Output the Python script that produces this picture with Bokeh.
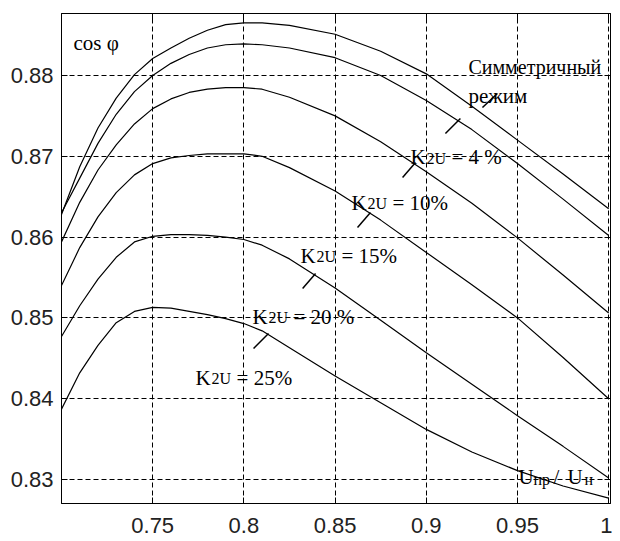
from bokeh.plotting import figure
from bokeh.models import Label, FixedTicker, LinearAxis, Range1d
from bokeh.embed import file_html
from bokeh.resources import INLINE

# ---- data ----
u_ratio = [0.70, 0.71, 0.72, 0.73, 0.74, 0.75, 0.76, 0.77, 0.78, 0.79, 0.80,
           0.81, 0.825, 0.85, 0.875, 0.90, 0.925, 0.95, 0.975, 1.00]
cos_sym = [0.8628, 0.8687, 0.8735, 0.8772, 0.8801, 0.8821, 0.8834, 0.8846, 0.8856, 0.8863, 0.8865,
           0.8865, 0.8862, 0.8851, 0.8830, 0.8802, 0.8762, 0.8720, 0.8678, 0.8635]
cos_k4 = [0.8630, 0.8673, 0.8716, 0.8752, 0.8780, 0.8800, 0.8815, 0.8826, 0.8834, 0.8838, 0.8839,
          0.8838, 0.8834, 0.8822, 0.8800, 0.8769, 0.8733, 0.8691, 0.8647, 0.8602]
cos_k10 = [0.8594, 0.8643, 0.8683, 0.8714, 0.8740, 0.8759, 0.8771, 0.8779, 0.8783, 0.8785, 0.8785,
           0.8783, 0.8773, 0.8750, 0.8718, 0.8681, 0.8642, 0.8599, 0.8553, 0.8506]
cos_k15 = [0.8540, 0.8587, 0.8625, 0.8655, 0.8677, 0.8691, 0.8698, 0.8701, 0.8703, 0.8703, 0.8703,
           0.8700, 0.8686, 0.8657, 0.8621, 0.8581, 0.8541, 0.8500, 0.8451, 0.8400]
cos_k20 = [0.8477, 0.8515, 0.8548, 0.8575, 0.8594, 0.8601, 0.8603, 0.8603, 0.8602, 0.8600, 0.8597,
           0.8590, 0.8573, 0.8537, 0.8497, 0.8457, 0.8418, 0.8379, 0.8341, 0.8302]
cos_k25 = [0.8387, 0.8432, 0.8466, 0.8494, 0.8508, 0.8513, 0.8512, 0.8508, 0.8504, 0.8499, 0.8493,
           0.8484, 0.8463, 0.8428, 0.8395, 0.8362, 0.8334, 0.8311, 0.8292, 0.8277]

xtick_vals = [0.75, 0.8, 0.85, 0.9, 0.95, 1.0]
xtick_labels = ["0.75", "0.8", "0.85", "0.9", "0.95", "1"]
ytick_vals = [0.83, 0.84, 0.85, 0.86, 0.87, 0.88]
ytick_labels = ["0.83", "0.84", "0.85", "0.86", "0.87", "0.88"]

# curve-label texts and anchors (data coordinates)
k_rest = ["= 4 %", "= 10%", "= 15%", "= 20 %", "= 25%"]
k_x = [0.8913, 0.8590, 0.8310, 0.8047, 0.7735]
k_y = [0.86985, 0.86428, 0.85772, 0.85017, 0.84262]
# leader strokes
lead_x0 = [0.9308, 0.9105, 0.8870, 0.8623, 0.8322, 0.8053]
lead_y0 = [0.87604, 0.87282, 0.86738, 0.86119, 0.85364, 0.84621]
lead_x1 = [0.9390, 0.9187, 0.8941, 0.8694, 0.8393, 0.8135]
lead_y1 = [0.87777, 0.87468, 0.86923, 0.86304, 0.85550, 0.84807]

SERIF = "Liberation Serif"
TICKFONT = "Liberation Sans"

p = figure(frame_width=549, frame_height=490, x_range=Range1d(0.7, 1.001),
           y_range=Range1d(0.82703, 0.88767),
           output_backend="svg", toolbar_location=None,
           min_border_left=61, min_border_right=2, min_border_top=13,
           min_border_bottom=38)

p.outline_line_color = "black"
p.outline_line_width = 1
p.background_fill_color = "white"
p.border_fill_color = "white"

for ax in (p.xaxis[0], p.yaxis[0]):
    ax.major_tick_in = 6
    ax.major_tick_out = 0
    ax.minor_tick_in = 0
    ax.minor_tick_out = 0
    ax.axis_line_color = "black"
    ax.major_tick_line_color = "black"
    ax.major_label_text_font = TICKFONT
    ax.major_label_text_font_size = "22px"
    ax.major_label_text_color = "#222222"

p.xaxis[0].ticker = FixedTicker(ticks=xtick_vals)
p.xaxis[0].major_label_overrides = dict(zip(xtick_vals, xtick_labels))
p.xaxis[0].major_label_standoff = 14
p.yaxis[0].ticker = FixedTicker(ticks=ytick_vals)
p.yaxis[0].major_label_overrides = dict(zip(ytick_vals, ytick_labels))
p.yaxis[0].major_label_standoff = 8

for side, tv in (("right", ytick_vals), ("above", xtick_vals)):
    a = LinearAxis(ticker=FixedTicker(ticks=tv))
    a.major_tick_in = 6
    a.major_tick_out = 0
    a.minor_tick_in = 0
    a.minor_tick_out = 0
    a.major_label_text_font_size = "1px"
    a.major_label_text_color = None
    a.major_label_standoff = 0
    a.axis_line_color = "black"
    a.major_tick_line_color = "black"
    p.add_layout(a, side)

p.xgrid[0].ticker = FixedTicker(ticks=xtick_vals)
p.ygrid[0].ticker = FixedTicker(ticks=ytick_vals)
for g in (p.xgrid[0], p.ygrid[0]):
    g.grid_line_color = "black"
    g.grid_line_dash = "5 3"
    g.grid_line_width = 1
    g.grid_line_alpha = 1.0

for ys in (cos_sym, cos_k4, cos_k10, cos_k15, cos_k20, cos_k25):
    p.line(u_ratio, ys, line_color="black", line_width=1.2)

p.segment(x0=lead_x0, y0=lead_y0, x1=lead_x1, y1=lead_y1,
          line_color="black", line_width=1.5)

def lab(x, y, text, size="21px", dx=0, dy=0):
    p.add_layout(Label(x=x, y=y, text=text, x_units="data", y_units="data",
                       x_offset=dx, y_offset=dy, text_font=SERIF,
                       text_font_size=size, text_color="black",
                       text_baseline="alphabetic", text_align="left"))

lab(0.7066, 0.88408, "cos φ")
lab(0.9231, 0.88111, "Симметричный", size="20px")
lab(0.9231, 0.8774, "режим")

for xx, yy, rest in zip(k_x, k_y, k_rest):
    lab(xx, yy, "K")
    lab(xx, yy, "2U", size="16px", dx=16, dy=-1)
    lab(xx, yy, rest, dx=41)

ux, uy = 0.9505, 0.83037
lab(ux, uy, "U")
lab(ux, uy, "пр", size="16px", dx=15, dy=-3)
lab(ux, uy, "/", dx=35)
lab(ux, uy, "U", dx=49)
lab(ux, uy, "н", size="16px", dx=66, dy=-3)

open("out.html", "w").write(file_html(p, INLINE))
